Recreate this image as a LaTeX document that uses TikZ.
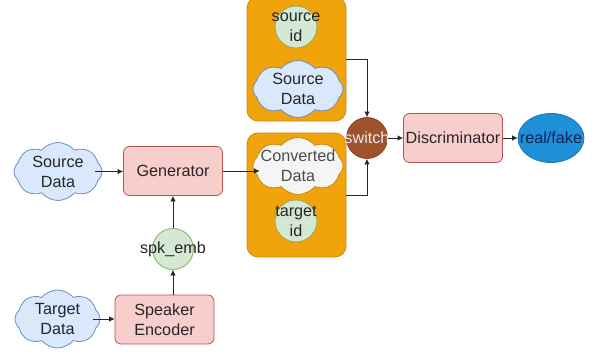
\documentclass[tikz,border=0pt]{standalone}
\usepackage{fontspec}
\setmainfont{Liberation Sans}
\usetikzlibrary{shapes.symbols,shapes.geometric,arrows.meta}
\definecolor{pinkfill}{HTML}{F8CECC}\definecolor{pinkline}{HTML}{B85450}
\definecolor{bluefill}{HTML}{DAE8FC}\definecolor{blueline}{HTML}{6C8EBF}
\definecolor{greenfill}{HTML}{D5E8D4}\definecolor{greenline}{HTML}{82B366}
\definecolor{orangefill}{HTML}{F0A30A}\definecolor{orangeline}{HTML}{C98A12}
\definecolor{switchfill}{HTML}{A0522D}\definecolor{switchline}{HTML}{8A4526}
\definecolor{fakefill}{HTML}{1F8FD8}\definecolor{fakeline}{HTML}{1A78B8}
\definecolor{navytext}{HTML}{10245A}
\tikzset{
  x=1pt,y=1pt,
  txt/.style={font=\fontsize{16.2}{20}\selectfont,align=center,text=#1},
  txt/.default={black!85},
  boxbase/.style={draw=pinkline,fill=pinkfill,rounded corners=6pt,line width=.8pt,minimum width=99pt,minimum height=49pt,inner sep=0pt},
  proc/.style={boxbase,txt},
  group/.style={draw=orangeline,fill=orangefill,rounded corners=11pt,line width=.8pt,minimum width=99pt,minimum height=124pt,inner sep=0pt},
  cloudbase/.style={cloud,cloud puffs=8,cloud puff arc=100,aspect=1.5,draw=#1,line width=.8pt,inner sep=0pt},
  srccloud/.style={cloudbase=blueline,fill=bluefill},
  whitecloud/.style={cloudbase=orangeline,fill=black!4},
  idcircle/.style={circle,draw=greenline!70!orangeline,fill=greenfill,line width=.8pt,minimum size=42pt,inner sep=0pt},
  inlabel/.style={label={[txt]center:{#1}}},
  link/.style={draw=black!85,line width=.8pt,-{Latex[length=5.5pt,width=5.5pt]}},
}
\begin{document}
\begin{tikzpicture}
\useasboundingbox (0,0) rectangle (595,-356);
% groups
\node[group] (upper) at (296.5,-59) {};
\node[group] (lower) at (296.5,-195) {};
% processes
\node[proc] (gen) at (173,-171) {Generator};
\node[proc] (enc) at (164.5,-319.5) {Speaker\\Encoder};
\node[boxbase,txt] (disc) at (453,-138) {Discriminator};
% clouds
\node[srccloud,minimum width=88pt,minimum height=58pt,inlabel={Source\\Data}] (srcL) at (58,-171.5) {};
\node[srccloud,minimum width=85pt,minimum height=58pt,inlabel={Target\\Data}] (tgt) at (57.5,-319) {};
\node[srccloud,minimum width=90pt,minimum height=57pt,inlabel={Source\\Data}] (srcU) at (298,-89) {};
\node[whitecloud,minimum width=90pt,minimum height=57pt,label={[txt=black!70]center:{Converted\\Data}}] (conv) at (298,-166) {};
% circles
\node[idcircle,inlabel={source\\id}] (sid) at (296,-27) {};
\node[idcircle,inlabel={target\\id}] (tid) at (296,-221) {};
\node[circle,draw=greenline,fill=greenfill,line width=.8pt,minimum size=41pt,inner sep=0pt,inlabel={spk\_emb}] (emb) at (173,-249) {};
\node[circle,draw=switchline,fill=switchfill,line width=.8pt,minimum size=41pt,inner sep=0pt,label={[txt=white!92!black]center:{switch}}] (sw) at (367,-138) {};
\node[ellipse,draw=fakeline,fill=fakefill,line width=.8pt,minimum width=66pt,minimum height=49pt,inner sep=0pt,label={[txt=navytext]center:{real/fake}}] (rf) at (551,-138) {};
% connectors
\draw[link,shorten <=-7pt] (srcL.east) -- (gen.west |- srcL.east);
\draw[link,shorten <=-7pt] (tgt.east) -- (enc.west |- tgt.east);
\draw[link,shorten >=-7pt] (gen.east) -- (conv.west |- gen.east);
\draw[link] (enc.north -| emb) -- (emb);
\draw[link] (emb) -- (gen.south);
\draw[link] (upper.east) -| (sw.north);
\draw[link] (lower.east) -| (sw.south);
\draw[link] (sw) -- (disc);
\draw[link] (disc) -- (rf);
\end{tikzpicture}
\end{document}
